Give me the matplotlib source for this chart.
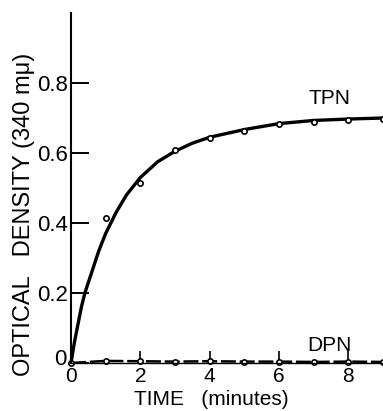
import matplotlib
matplotlib.use("Agg")
import matplotlib.pyplot as plt
import matplotlib.transforms as mtransforms

# --- data ---
tpn_t = [1, 2, 3, 4, 5, 6, 7, 8, 9]
tpn_od = [0.415, 0.515, 0.608, 0.644, 0.663, 0.684, 0.690, 0.695, 0.697]

# smooth drawn curve (hand-fitted in original)
curve_t = [0, 0.1, 0.2, 0.3, 0.4, 0.6, 0.8, 1.0, 1.3, 1.6, 2.0, 2.5, 3.0, 3.5, 4.0, 5.0, 6.0, 7.0, 8.0, 9.0]
curve_od = [0, 0.06, 0.11, 0.16, 0.20, 0.26, 0.32, 0.37, 0.43, 0.48, 0.53, 0.575, 0.605, 0.628, 0.645, 0.667, 0.684, 0.693, 0.697, 0.700]

dpn_t = [0, 1, 2, 3, 4, 5, 6, 7, 8, 9]
dpn_od = [0, 0.006, 0.005, 0.004, 0.005, 0.004, 0.004, 0.003, 0.004, 0.003]

yticks = [0, 0.2, 0.4, 0.6, 0.8]
ytick_labels = ["0", "0.2", "0.4", "0.6", "0.8"]
xticks = [0, 2, 4, 6, 8]

plt.rcParams['font.family'] = ['Liberation Sans', 'DejaVu Sans']

W, H = 383, 411
fig = plt.figure(figsize=(W / 100, H / 100), dpi=100)
ax = fig.add_axes([71 / W, 1 - 363 / H, 312 / W, 350 / H])

ax.plot(curve_t, curve_od, color='black', linewidth=2.4, clip_on=False)
ax.plot(tpn_t, tpn_od, linestyle='none', marker='o', markersize=3.8,
        markerfacecolor='white', markeredgecolor='black', markeredgewidth=1.2, clip_on=False)

ax.plot(dpn_t, dpn_od, color='black', linewidth=1.8, linestyle=(0, (6, 1.5)),
        marker='o', markersize=3.8, markerfacecolor='white',
        markeredgecolor='black', markeredgewidth=1.2, clip_on=False)

ax.set_xlim(0, 9.0)
ax.set_ylim(0, 1.0)

for s in ['top', 'right']:
    ax.spines[s].set_visible(False)
ax.spines['left'].set_linewidth(1.5)
ax.spines['bottom'].set_linewidth(1.0)

ax.set_yticks(yticks)
ax.set_yticklabels(ytick_labels)
ax.set_xticks(xticks)
ax.tick_params(axis='y', direction='in', length=13, width=1.4, labelsize=16, pad=2)
ax.tick_params(axis='x', direction='in', length=9, width=1.2, labelsize=15, pad=3)

# lift the y "0" a little so it clears the x "0"
lbl0 = ax.get_yticklabels()[0]
lbl0.set_transform(lbl0.get_transform() + mtransforms.ScaledTranslation(-2 / 100, 6 / 100, fig.dpi_scale_trans))

ax.text(7.45, 0.757, "TPN", fontsize=15, ha='center', va='center')
ax.text(7.45, 0.05, "DPN", fontsize=15, ha='center', va='center')

fig.text(211 / W, 1 - 399 / H, "TIME   (minutes)", fontsize=15, ha='center', va='center')
fig.text(24 / W, 1 - 376 / H, "OPTICAL   DENSITY (340 m\u03bc)", fontsize=17,
         rotation=90, ha='center', va='bottom')

fig.savefig("out.png", dpi=100)
